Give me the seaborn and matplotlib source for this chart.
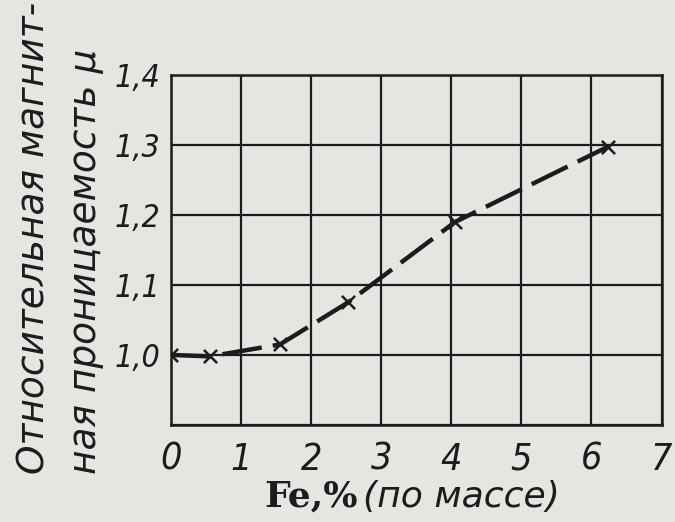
import matplotlib
matplotlib.use('Agg')
import matplotlib.pyplot as plt
import seaborn as sns
import pandas as pd

fe_pct = [0.0, 0.55, 1.55, 2.52, 4.05, 6.24]
mu_rel = [1.0, 0.998, 1.015, 1.075, 1.19, 1.298]

x_ticks = [0, 1, 2, 3, 4, 5, 6, 7]
y_ticks = [0.9, 1.0, 1.1, 1.2, 1.3, 1.4]
y_tick_labels = ['', '1,0', '1,1', '1,2', '1,3', '1,4']

ylabel_line1 = 'Относительная магнит-'
ylabel_line2 = 'ная проницаемость μ'
xlabel_bold = 'Fe,%'
xlabel_rest = '(по массе)'

paper = '#e5e5e2'
ink = '#1c1c1c'

sns.set_theme(style="white")
plt.rcParams['font.family'] = ['DejaVu Sans']

fig = plt.figure(figsize=(6.75, 5.22), dpi=100, facecolor=paper)
ax = fig.add_axes([0.254, 0.186, 0.726, 0.670])
ax.set_facecolor(paper)

df = pd.DataFrame({'fe': fe_pct, 'mu': mu_rel})
sns.lineplot(data=df, x='fe', y='mu', ax=ax, color=ink, lw=3.2,
             dashes=False, zorder=3)
ax.lines[-1].set_dashes([9, 2.5])
sns.scatterplot(data=df, x='fe', y='mu', ax=ax, marker='x', s=90,
                color=ink, linewidth=1.8, zorder=4)

ax.set_xlim(0, 7)
ax.set_ylim(0.9, 1.4)
ax.set_xticks(x_ticks)
ax.set_yticks(y_ticks)
ax.set_yticklabels(y_tick_labels)
ax.grid(True, color=ink, lw=1.6)
ax.set_axisbelow(True)
for sp in ax.spines.values():
    sp.set_color(ink)
    sp.set_linewidth(1.8)

ax.tick_params(axis='both', length=0, colors=ink)
ax.tick_params(axis='y', pad=8)
ax.tick_params(axis='x', pad=12)
for lab in ax.get_yticklabels():
    lab.set_fontsize(23)
    lab.set_fontstyle('italic')
    lab.set_fontstretch('condensed')
for lab in ax.get_xticklabels():
    lab.set_fontsize(27)
    lab.set_fontstyle('italic')
    lab.set_fontstretch('condensed')
ax.set_xlabel('')
ax.set_ylabel('')

# axis titles drawn as separate texts (two-line rotated label, mixed x label)
fig.text(35 / 675, 1 - 474 / 522, ylabel_line1, rotation=90, ha='center',
         va='bottom', fontsize=27, style='italic', color=ink)
fig.text(86 / 675, 1 - 474 / 522, ylabel_line2, rotation=90, ha='center',
         va='bottom', fontsize=27, style='italic', color=ink)
fig.text(358 / 675, 1 - 497 / 522, xlabel_bold, ha='right', va='center',
         fontsize=26, family='DejaVu Serif', weight='bold', color=ink)
fig.text(363 / 675, 1 - 497 / 522, xlabel_rest, ha='left', va='center',
         fontsize=26, style='italic', color=ink)

fig.savefig('out.png', dpi=100, facecolor=paper)
